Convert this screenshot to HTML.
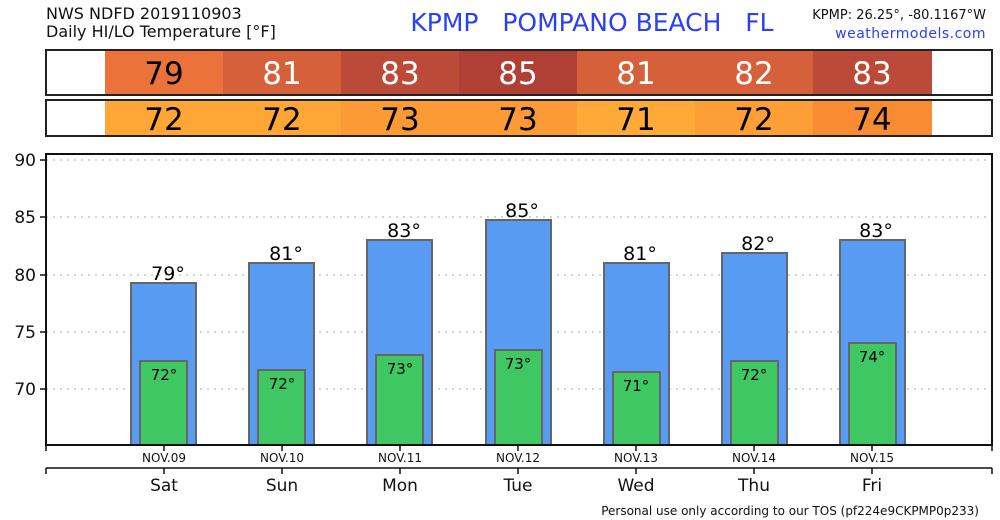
<!DOCTYPE html><html><head><style>body{margin:0;background:#fff}svg{display:block;font-family:"DejaVu Sans","Liberation Sans",sans-serif}</style></head><body>
<svg width="1000" height="520" viewBox="0 0 1000 520" xmlns="http://www.w3.org/2000/svg">
<text x="46" y="19" font-size="16" fill="#111">NWS NDFD 2019110903</text>
<text x="46" y="37" font-size="16" fill="#111">Daily HI/LO Temperature [°F]</text>
<text x="592" y="31" font-size="25" fill="#2a40f5" text-anchor="middle" xml:space="preserve">KPMP   POMPANO BEACH   FL</text>
<text x="986" y="19" font-size="13" fill="#111" text-anchor="end">KPMP: 26.25°, -80.1167°W</text>
<text x="986" y="38" font-size="14" fill="#2a40f5" text-anchor="end" letter-spacing="0.5">weathermodels.com</text>
<g>
<rect x="105" y="50" width="118" height="45" fill="#EB733B"/><rect x="223" y="50" width="118" height="45" fill="#D6603A"/><rect x="341" y="50" width="118" height="45" fill="#BC4A38"/><rect x="459" y="50" width="118" height="45" fill="#B03F35"/><rect x="577" y="50" width="118" height="45" fill="#D6603A"/><rect x="695" y="50" width="118" height="45" fill="#D6603A"/><rect x="813" y="50" width="119" height="45" fill="#BC4A38"/>
<rect x="46" y="50" width="946" height="45" fill="none" stroke="#222" stroke-width="2"/>
<g font-size="31" text-anchor="middle"><text x="164" y="84" fill="#000">79</text><text x="282" y="84" fill="#fff">81</text><text x="400" y="84" fill="#fff">83</text><text x="518" y="84" fill="#fff">85</text><text x="636" y="84" fill="#fff">81</text><text x="754" y="84" fill="#fff">82</text><text x="872" y="84" fill="#fff">83</text></g>
<rect x="105" y="100" width="118" height="36" fill="#FFA637"/><rect x="223" y="100" width="118" height="36" fill="#FFA637"/><rect x="341" y="100" width="118" height="36" fill="#FC9A35"/><rect x="459" y="100" width="118" height="36" fill="#FC9A35"/><rect x="577" y="100" width="118" height="36" fill="#FFAA38"/><rect x="695" y="100" width="118" height="36" fill="#FD9F36"/><rect x="813" y="100" width="119" height="36" fill="#F98C33"/>
<rect x="46" y="100" width="946" height="36" fill="none" stroke="#222" stroke-width="2"/>
<g font-size="31" text-anchor="middle" fill="#000"><text x="164" y="130">72</text><text x="282" y="130">72</text><text x="400" y="130">73</text><text x="518" y="130">73</text><text x="636" y="130">71</text><text x="754" y="130">72</text><text x="872" y="130">74</text></g>
</g>
<g stroke="#aaa" stroke-dasharray="2,5" stroke-width="1"><line x1="46" y1="217" x2="992" y2="217"/><line x1="46" y1="275" x2="992" y2="275"/><line x1="46" y1="332" x2="992" y2="332"/><line x1="46" y1="389" x2="992" y2="389"/><line x1="46" y1="160" x2="992" y2="160"/></g>
<g stroke="#666" stroke-width="2">
<rect x="131" y="283" width="65" height="162" fill="#579BF2"/><rect x="249" y="263" width="65" height="182" fill="#579BF2"/><rect x="367" y="240" width="65" height="205" fill="#579BF2"/><rect x="486" y="220" width="65" height="225" fill="#579BF2"/><rect x="604" y="263" width="65" height="182" fill="#579BF2"/><rect x="722" y="253" width="65" height="192" fill="#579BF2"/><rect x="840" y="240" width="65" height="205" fill="#579BF2"/>
<rect x="140" y="361" width="47" height="84" fill="#3EC762"/><rect x="258" y="370" width="47" height="75" fill="#3EC762"/><rect x="376" y="355" width="47" height="90" fill="#3EC762"/><rect x="495" y="350" width="47" height="95" fill="#3EC762"/><rect x="613" y="372" width="47" height="73" fill="#3EC762"/><rect x="731" y="361" width="47" height="84" fill="#3EC762"/><rect x="849" y="343" width="47" height="102" fill="#3EC762"/>
</g>
<g font-size="19" text-anchor="middle" fill="#000"><text x="168" y="280">79°</text><text x="286" y="260">81°</text><text x="404" y="237">83°</text><text x="522" y="217">85°</text><text x="640" y="260">81°</text><text x="758" y="250">82°</text><text x="876" y="237">83°</text></g>
<g font-size="15" text-anchor="middle" fill="#000"><text x="164" y="380">72°</text><text x="282" y="389">72°</text><text x="400" y="374">73°</text><text x="518" y="369">73°</text><text x="636" y="391">71°</text><text x="754" y="380">72°</text><text x="872" y="362">74°</text></g>
<rect x="46" y="154" width="946" height="291" fill="none" stroke="#111" stroke-width="2"/>
<g stroke="#111" stroke-width="1.5"><line x1="40" y1="160" x2="46" y2="160"/><line x1="40" y1="217" x2="46" y2="217"/><line x1="40" y1="275" x2="46" y2="275"/><line x1="40" y1="332" x2="46" y2="332"/><line x1="40" y1="389" x2="46" y2="389"/>
<line x1="46" y1="445" x2="46" y2="451"/><line x1="164" y1="445" x2="164" y2="451"/><line x1="282" y1="445" x2="282" y2="451"/><line x1="400" y1="445" x2="400" y2="451"/><line x1="518" y1="445" x2="518" y2="451"/><line x1="636" y1="445" x2="636" y2="451"/><line x1="754" y1="445" x2="754" y2="451"/><line x1="872" y1="445" x2="872" y2="451"/><line x1="992" y1="445" x2="992" y2="451"/>
<line x1="46" y1="468" x2="992" y2="468"/><line x1="46" y1="468" x2="46" y2="474"/><line x1="164" y1="468" x2="164" y2="474"/><line x1="282" y1="468" x2="282" y2="474"/><line x1="400" y1="468" x2="400" y2="474"/><line x1="518" y1="468" x2="518" y2="474"/><line x1="636" y1="468" x2="636" y2="474"/><line x1="754" y1="468" x2="754" y2="474"/><line x1="872" y1="468" x2="872" y2="474"/><line x1="992" y1="468" x2="992" y2="474"/></g>
<g font-size="17" text-anchor="end" fill="#111"><text x="36" y="166">90</text><text x="36" y="223">85</text><text x="36" y="281">80</text><text x="36" y="338">75</text><text x="36" y="395">70</text></g>
<g font-size="12" text-anchor="middle" fill="#111"><text x="164" y="462">NOV.09</text><text x="282" y="462">NOV.10</text><text x="400" y="462">NOV.11</text><text x="518" y="462">NOV.12</text><text x="636" y="462">NOV.13</text><text x="754" y="462">NOV.14</text><text x="872" y="462">NOV.15</text></g>
<g font-size="17" text-anchor="middle" fill="#111"><text x="164" y="491">Sat</text><text x="282" y="491">Sun</text><text x="400" y="491">Mon</text><text x="518" y="491">Tue</text><text x="636" y="491">Wed</text><text x="754" y="491">Thu</text><text x="872" y="491">Fri</text></g>
<text x="979" y="515" font-size="12" text-anchor="end" fill="#111">Personal use only according to our TOS (pf224e9CKPMP0p233)</text>
</svg></body></html>
